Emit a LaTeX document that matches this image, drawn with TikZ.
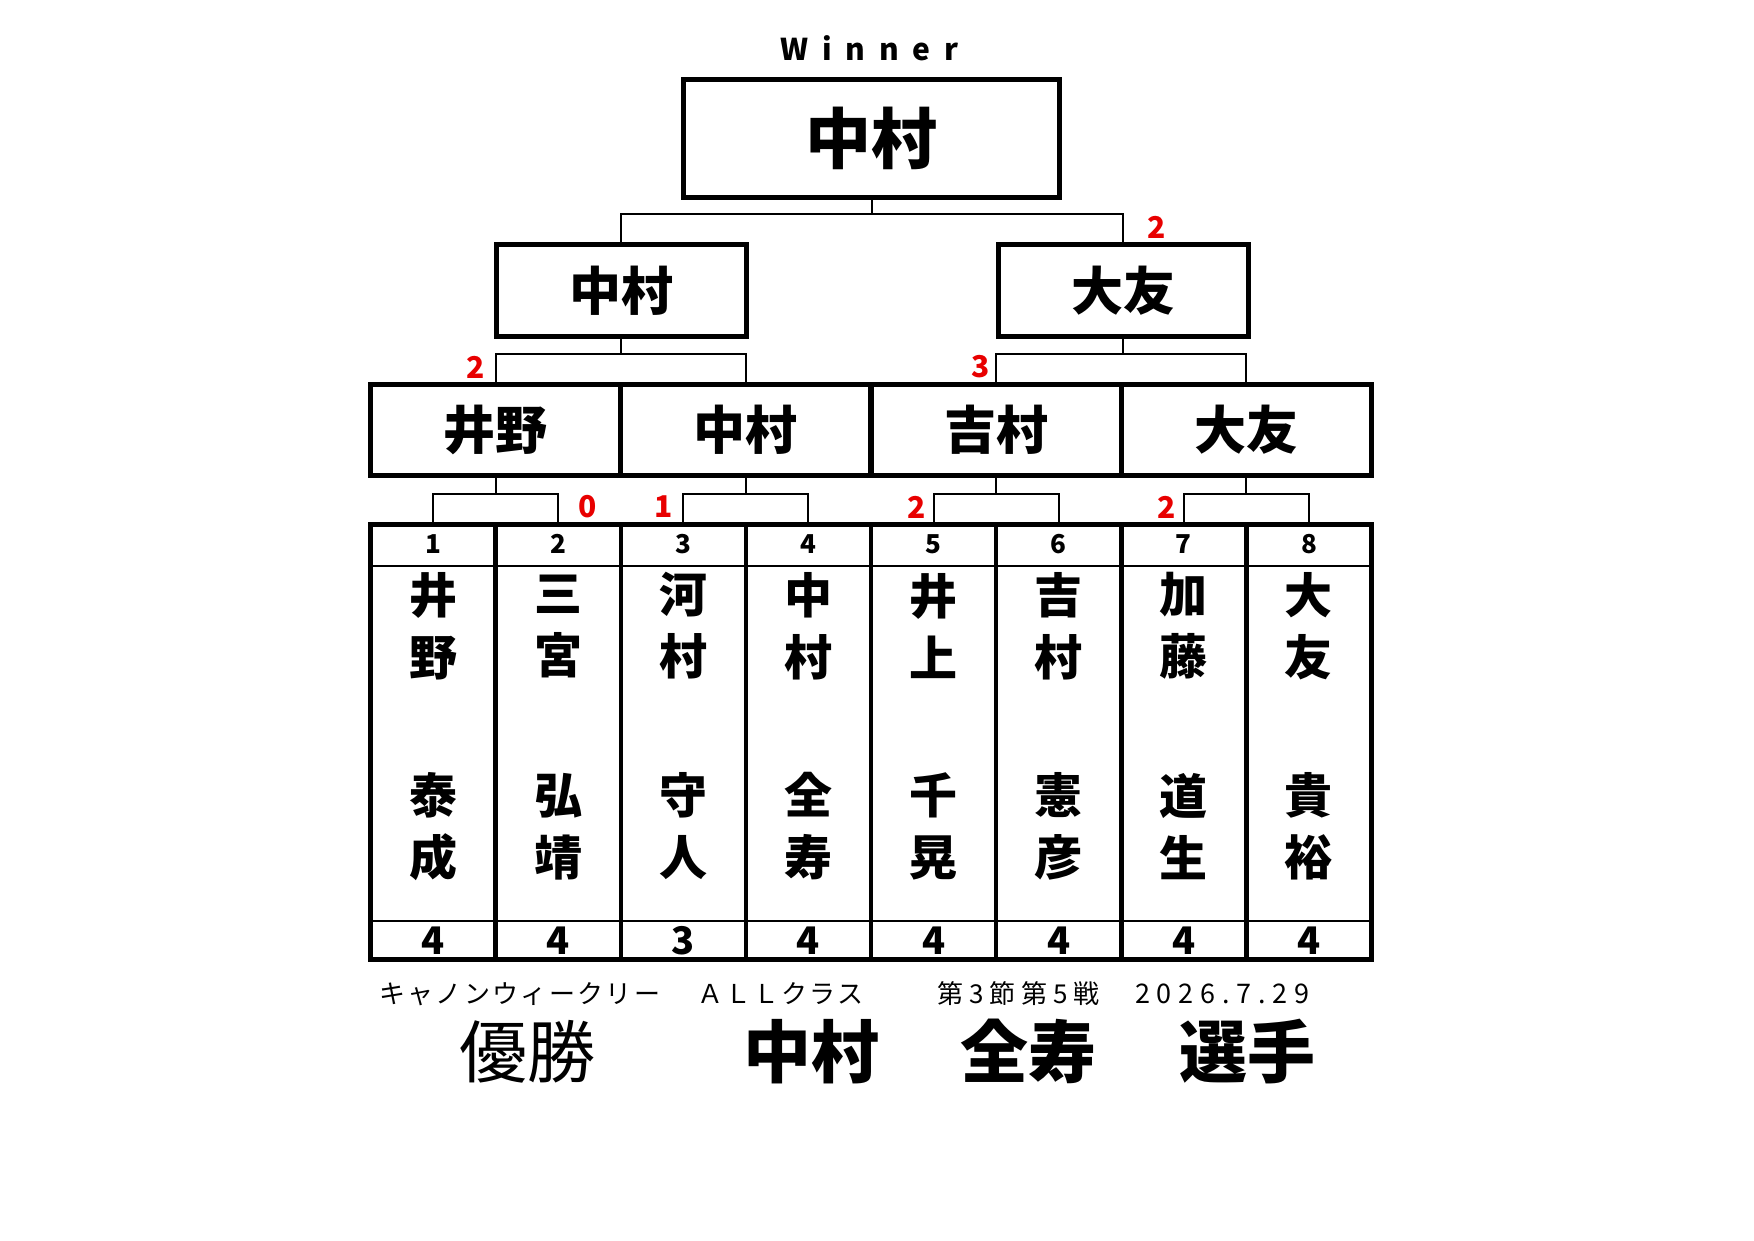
\documentclass[tikz,border=0pt]{standalone}
\usepackage{fontspec}
\setmainfont{Noto Sans CJK JP}
\definecolor{scorered}{RGB}{232,0,0}
\begin{document}
\begin{tikzpicture}[x=1pt,y=-1pt,
  box/.style={draw, line width=5pt, inner sep=0pt},
  colbox/.style={draw, line width=4.5pt, inner sep=0pt, minimum width=125.125pt, minimum height=435pt},
  conn/.style={line width=2pt},
  inner/.style={line width=2.5pt},
  redsc/.style={text=scorered, font=\bfseries\fontsize{30}{30}\selectfont, inner sep=0pt},
  numtext/.style={font=\bfseries\fontsize{26}{26}\selectfont, inner sep=0pt},
  scoretext/.style={font=\bfseries\fontsize{38}{38}\selectfont, inner sep=0pt},
  nametext/.style={font=\bfseries\fontsize{48}{62}\selectfont, align=center, inner sep=0pt},
  boxname/.style={font=\bfseries\fontsize{52}{52}\selectfont},
]
\useasboundingbox[fill=white] (0,0) rectangle (1754,1240);

% level y coordinates
\coordinate (yF) at (0,214);
\coordinate (yS) at (0,354);
\coordinate (yQ) at (0,494);
\coordinate (ynum) at (0,544);
\coordinate (yfam) at (0,626);
\coordinate (ygiv) at (0,826.5);
\coordinate (ysc) at (0,941);

% Winner
\node[anchor=west, inner sep=0pt, font={\bfseries\fontsize{30}{30}\selectfont\addfontfeature{LetterSpace=46}}] (win) at (780,48) {Winner};

% final box
\node[box, minimum width=376pt, minimum height=118pt, font=\bfseries\fontsize{66}{66}\selectfont] (F) at (871.5,138.5) {中村};

% semifinal boxes
\node[box, boxname, minimum width=250pt, minimum height=92pt] (S1) at (621,290.5) {中村};
\node[box, boxname, minimum width=250pt, minimum height=92pt] (S2) at (1123,290.5) {大友};

% first round boxes
\node[box, boxname, minimum width=250.25pt, minimum height=91pt] (Q1) at (495.6,430) {井野};
\node[box, boxname, minimum width=250.25pt, minimum height=91pt] (Q2) at (745.9,430) {中村};
\node[box, boxname, minimum width=250.25pt, minimum height=91pt] (Q3) at (996.1,430) {吉村};
\node[box, boxname, minimum width=250.25pt, minimum height=91pt] (Q4) at (1246.4,430) {大友};

% player columns
\foreach \i/\a/\b/\c/\d/\s in {1/井/野/泰/成/4, 2/三/宮/弘/靖/4, 3/河/村/守/人/3, 4/中/村/全/寿/4, 5/井/上/千/晃/4, 6/吉/村/憲/彦/4, 7/加/藤/道/生/4, 8/大/友/貴/裕/4}{
  \node[colbox] (P\i) at ({370.5+(\i-0.5)*125.125},742) {};
  \node[numtext] (n\i) at (P\i |- ynum) {\i};
  \node[nametext] (fa\i) at (P\i |- yfam) {\a\\\b};
  \node[nametext] (gi\i) at (P\i |- ygiv) {\c\\\d};
  \node[scoretext] (sc\i) at (P\i |- ysc) {\s};
}
\draw[inner] (P1.west |- 0,566) -- (P8.east |- 0,566);
\draw[inner] (P1.west |- 0,921) -- (P8.east |- 0,921);

% connectors: final
\draw[conn] (F.south) -- (F.south |- yF);
\draw[conn] (S1.north) -- (S1.north |- yF) -- (S2.north |- yF) -- (S2.north);
% semis
\draw[conn] (S1.south) -- (S1.south |- yS);
\draw[conn] (Q1.north) -- (Q1.north |- yS) -- (Q2.north |- yS) -- (Q2.north);
\draw[conn] (S2.south) -- (S2.south |- yS);
\draw[conn] (Q3.north) -- (Q3.north |- yS) -- (Q4.north |- yS) -- (Q4.north);
% first round
\draw[conn] (Q1.south) -- (Q1.south |- yQ);
\draw[conn] (P1.north) -- (P1.north |- yQ) -- (P2.north |- yQ) -- (P2.north);
\draw[conn] (Q2.south) -- (Q2.south |- yQ);
\draw[conn] (P3.north) -- (P3.north |- yQ) -- (P4.north |- yQ) -- (P4.north);
\draw[conn] (Q3.south) -- (Q3.south |- yQ);
\draw[conn] (P5.north) -- (P5.north |- yQ) -- (P6.north |- yQ) -- (P6.north);
\draw[conn] (Q4.south) -- (Q4.south |- yQ);
\draw[conn] (P7.north) -- (P7.north |- yQ) -- (P8.north |- yQ) -- (P8.north);

% red scores
\node[redsc] (rF) at (1157,227) {2};
\node[redsc] (rS1) at (476,367) {2};
\node[redsc] (rS2) at (981,367) {3};
\node[redsc] (rQ1) at (588,507) {0};
\node[redsc] (rQ2) at (664,507) {1};
\node[redsc] (rQ3) at (917,507) {2};
\node[redsc] (rQ4) at (1167,507) {2};

% bottom captions
\node[anchor=west, inner sep=0pt, font={\fontsize{26}{26}\selectfont\addfontfeature{LetterSpace=9}}] (cap1) at (379,994) {キャノンウィークリー};
\node[anchor=west, inner sep=0pt, font={\fontsize{26}{26}\selectfont\addfontfeature{LetterSpace=8}}] (cap2) at (697,994) {ＡＬＬクラス};
\node[anchor=west, inner sep=0pt, font={\fontsize{26}{26}\selectfont\addfontfeature{LetterSpace=23}}] (cap3) at (937,994) {第3節第5戦};
\node[anchor=west, inner sep=0pt, font={\fontsize{27}{27}\selectfont\addfontfeature{LetterSpace=25}}] (cap4) at (1135,994) {2026.7.29};

\node[font=\fontsize{68}{68}\selectfont] (yusho) at (527,1051.5) {優勝};
\node[font=\bfseries\fontsize{68}{68}\selectfont] (wn1) at (811,1051.5) {中村};
\node[font=\bfseries\fontsize{68}{68}\selectfont] (wn2) at (1028,1051.5) {全寿};
\node[font=\bfseries\fontsize{68}{68}\selectfont] (wn3) at (1247,1051.5) {選手};
\end{tikzpicture}
\end{document}
